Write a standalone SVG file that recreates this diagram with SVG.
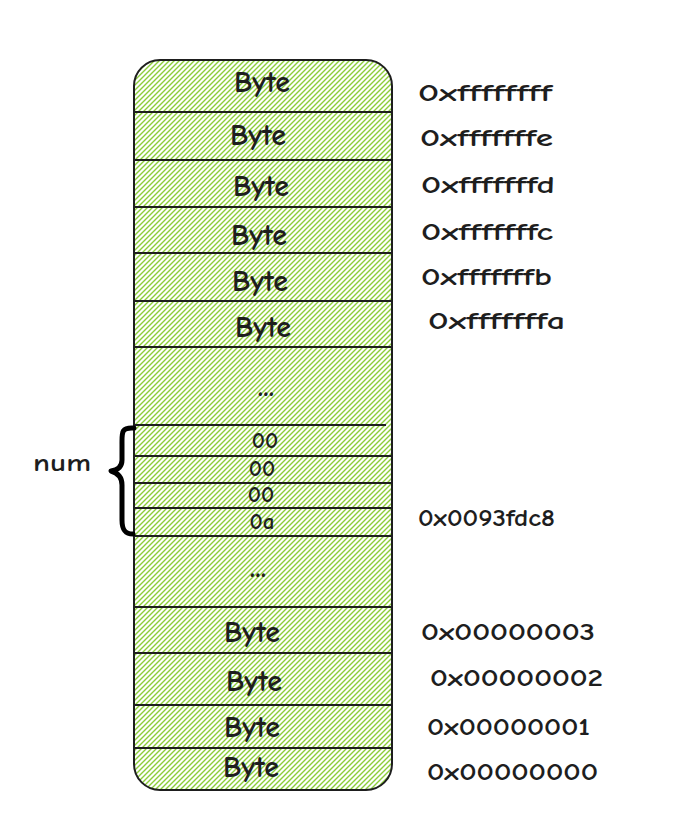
<svg xmlns="http://www.w3.org/2000/svg" width="679" height="836" viewBox="0 0 679 836">
<defs>
<pattern id="hatch" x="0" y="0" width="5" height="5" patternUnits="userSpaceOnUse">
<path d="M-1,6 L6,-1 M-1,1 L1,-1 M4,6 L6,4" stroke="#8ccd3a" stroke-width="1.4" fill="none"/>
</pattern>
</defs>
<style>
.sep{stroke:#1e1e1e;stroke-width:2;fill:none}
.lbl{font-family:"Comic Neue","Liberation Sans",sans-serif;font-size:30px;font-weight:bold;fill:#1e1e1e;text-anchor:middle}
.dots{font-family:"Comic Neue","Liberation Sans",sans-serif;font-size:30px;font-weight:bold;fill:#1e1e1e;text-anchor:middle}
.val{font-family:"Comic Neue","Liberation Sans",sans-serif;font-size:23px;font-weight:bold;fill:#1e1e1e;text-anchor:middle}
.addr{font-family:"Comic Neue","Liberation Sans",sans-serif;font-size:24px;font-weight:bold;fill:#1e1e1e}
</style>
<rect width="679" height="836" fill="#ffffff"/>
<g id="memory">
<rect x="134" y="60" width="258" height="730" rx="26" ry="26" fill="url(#hatch)" stroke="#1e1e1e" stroke-width="2"/>
</g>
<g id="separators">
<line class="sep" x1="134" y1="112" x2="392" y2="112"/>
<line class="sep" x1="134" y1="160" x2="392" y2="160"/>
<line class="sep" x1="134" y1="207" x2="392" y2="207"/>
<line class="sep" x1="134" y1="253" x2="392" y2="253"/>
<line class="sep" x1="134" y1="301" x2="392" y2="301"/>
<line class="sep" x1="134" y1="347" x2="392" y2="347"/>
<line class="sep" x1="134" y1="425" x2="386" y2="425"/>
<line class="sep" x1="134" y1="456" x2="392" y2="456"/>
<line class="sep" x1="134" y1="483" x2="392" y2="483"/>
<line class="sep" x1="134" y1="508" x2="392" y2="508"/>
<line class="sep" x1="134" y1="536" x2="392" y2="536"/>
<line class="sep" x1="134" y1="607" x2="392" y2="607"/>
<line class="sep" x1="134" y1="653" x2="392" y2="653"/>
<line class="sep" x1="134" y1="705" x2="392" y2="705"/>
<line class="sep" x1="134" y1="748" x2="392" y2="748"/>
</g>
<g id="cell-ffffffff"><text class="lbl" x="262" y="92">Byte</text><text class="addr" x="418" y="101" textLength="134" lengthAdjust="spacingAndGlyphs">0xffffffff</text></g>
<g id="cell-fffffffe"><text class="lbl" x="258" y="145">Byte</text><text class="addr" x="420" y="146" textLength="133" lengthAdjust="spacingAndGlyphs">0xfffffffe</text></g>
<g id="cell-fffffffd"><text class="lbl" x="261" y="196">Byte</text><text class="addr" x="421" y="193" textLength="134" lengthAdjust="spacingAndGlyphs">0xfffffffd</text></g>
<g id="cell-fffffffc"><text class="lbl" x="259" y="245">Byte</text><text class="addr" x="421" y="240" textLength="132" lengthAdjust="spacingAndGlyphs">0xfffffffc</text></g>
<g id="cell-fffffffb"><text class="lbl" x="260" y="291">Byte</text><text class="addr" x="421" y="285" textLength="131" lengthAdjust="spacingAndGlyphs">0xfffffffb</text></g>
<g id="cell-fffffffa"><text class="lbl" x="263" y="337">Byte</text><text class="addr" x="428" y="329" textLength="137" lengthAdjust="spacingAndGlyphs">0xfffffffa</text></g>
<g id="gap-top"><text class="dots" x="266" y="396">...</text></g>
<g id="cell-num-0"><text class="val" x="265" y="448">00</text></g>
<g id="cell-num-1"><text class="val" x="262" y="476">00</text></g>
<g id="cell-num-2"><text class="val" x="261" y="502">00</text></g>
<g id="cell-num-3"><text class="val" x="262" y="529">0a</text><text class="addr" x="418" y="526" textLength="137" lengthAdjust="spacingAndGlyphs">0x0093fdc8</text></g>
<g id="gap-bottom"><text class="dots" x="258" y="577">...</text></g>
<g id="cell-00000003"><text class="lbl" x="252" y="642">Byte</text><text class="addr" x="421" y="640" textLength="174" lengthAdjust="spacingAndGlyphs">0x00000003</text></g>
<g id="cell-00000002"><text class="lbl" x="254" y="691">Byte</text><text class="addr" x="430" y="686" textLength="173" lengthAdjust="spacingAndGlyphs">0x00000002</text></g>
<g id="cell-00000001"><text class="lbl" x="252" y="737">Byte</text><text class="addr" x="427" y="735" textLength="163" lengthAdjust="spacingAndGlyphs">0x00000001</text></g>
<g id="cell-00000000"><text class="lbl" x="251" y="777">Byte</text><text class="addr" x="427" y="780" textLength="171" lengthAdjust="spacingAndGlyphs">0x00000000</text></g>
<g id="num-label">
<text class="addr" x="33" y="471" textLength="58" lengthAdjust="spacingAndGlyphs">num</text>
</g>
<g id="connectors">
<path d="M134,428 C121,427 122,433 122,444 L122,460 C122,467 118,470 111,471 C118,473 122,477 122,485 L122,520 C122,530 125,534 133,534" fill="none" stroke="#000" stroke-width="5" stroke-linecap="round" stroke-linejoin="round"/>
</g>
</svg>
